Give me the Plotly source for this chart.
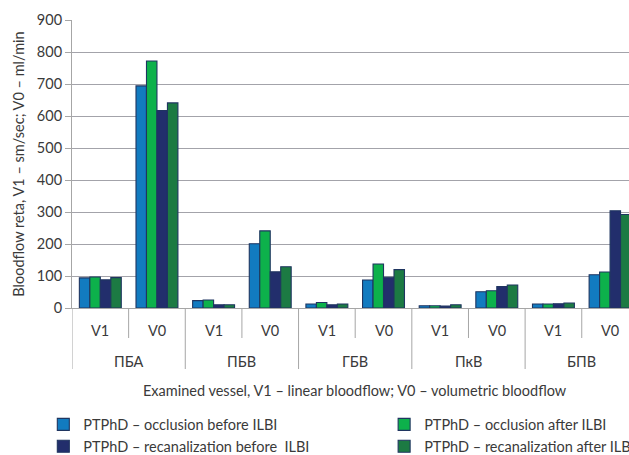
import plotly.graph_objects as go

vessels = ["ПБА", "ПБВ", "ГБВ", "ПкВ", "БПВ"]
measures = ["V1", "V0"]
series_names = [
    "PTPhD – occlusion before ILBI",
    "PTPhD – occlusion after ILBI",
    "PTPhD – recanalization before  ILBI",
    "PTPhD – recanalization after ILBI",
]
occl_before = [94, 694, 23, 201, 12.5, 87.5, 7, 51, 12.5, 104]
occl_after = [97, 772, 25, 241, 17, 137.5, 7, 54, 12.5, 112.5]
recan_before = [88, 617, 10, 113, 10, 96, 6, 67, 13.5, 304]
recan_after = [95, 641, 10, 129, 12.5, 120, 10, 72, 15.5, 292]

y_title = "Bloodflow reta, V1 – sm/sec; V0 – ml/min"
x_title = "Examined vessel, V1 – linear bloodflow; V0 – volumetric bloodflow"

colors = ["#127bc0", "#0db14b", "#222e6c", "#1c7a43"]
outline = "#1f3560"
FONT = "Lato"
FS = 14.5
TXT = "#3a3a3a"

W, H = 629, 455
ML, MT, MB = 71.7, 20, 147
plot_w = W - ML
plot_h = H - MT - MB
cat_w = 56.67
x_max = -0.5 + plot_w / cat_w

n = len(vessels) * len(measures)
xs = list(range(n))

legend_of = ["legend", "legend2", "legend", "legend2"]

fig = go.Figure()
for name, vals, col, lg in zip(series_names, [occl_before, occl_after, recan_before, recan_after], colors, legend_of):
    fig.add_trace(go.Bar(
        x=xs, y=vals, name=name, legend=lg,
        marker=dict(color=col, line=dict(color=outline, width=1.1)),
    ))

shapes = []
annotations = []
for g in range(len(vessels)):
    xb = 2 * g + 0.5
    shapes.append(dict(type="line", xref="x", yref="paper", x0=xb, x1=xb,
                       y0=0, y1=-30 / plot_h, line=dict(color="#a6a6a6", width=1)))
    xd = 2 * g - 0.5
    shapes.append(dict(type="line", xref="x", yref="paper", x0=xd, x1=xd,
                       y0=0, y1=-61 / plot_h, line=dict(color="#a6a6a6", width=1)))
    annotations.append(dict(x=2 * g + 0.5, y=0, xref="x", yref="paper", text=vessels[g],
                            showarrow=False, yanchor="middle", yshift=-53,
                            font=dict(family=FONT, size=FS, color=TXT)))
    for k, m in enumerate(measures):
        annotations.append(dict(x=2 * g + k, y=0, xref="x", yref="paper", text=m,
                                showarrow=False, yanchor="middle", yshift=-22,
                                font=dict(family=FONT, size=FS, color=TXT)))

annotations.append(dict(x=(n - 1) / 2, y=0, xref="x", yref="paper", text=x_title,
                        showarrow=False, yanchor="middle", yshift=-82,
                        font=dict(family=FONT, size=FS, color=TXT)))

leg_common = dict(orientation="v", yanchor="top", xanchor="left", itemwidth=30,
                  tracegroupgap=0, bgcolor="rgba(0,0,0,0)",
                  font=dict(family=FONT, size=FS, color=TXT))
leg_y = -(408.5 - (H - MB)) / plot_h

fig.update_layout(
    width=W, height=H, autosize=False,
    margin=dict(l=ML, r=0, t=MT, b=MB, pad=0, autoexpand=False),
    paper_bgcolor="white", plot_bgcolor="white",
    barmode="group", bargap=0.26, bargroupgap=0,
    font=dict(family=FONT, size=FS, color=TXT),
    xaxis=dict(range=[-0.5, x_max], showticklabels=False, ticks="",
               showgrid=False, zeroline=False, showline=True,
               linecolor="#a6a6a6", linewidth=1, fixedrange=True),
    yaxis=dict(range=[0, 900], dtick=100, tick0=0, showgrid=True,
               gridcolor="#a3a3aa", gridwidth=1.2, zeroline=False,
               showline=True, linecolor="#a6a6a6", linewidth=1,
               ticks="outside", ticklen=6, tickcolor="#a6a6a6",
               tickfont=dict(family=FONT, size=FS, color=TXT),
               title=dict(text=y_title, font=dict(family=FONT, size=FS, color=TXT), standoff=8)),
    legend=dict(x=(43 - ML) / plot_w, y=leg_y, **leg_common),
    legend2=dict(x=(384 - ML) / plot_w, y=leg_y, **leg_common),
    shapes=shapes, annotations=annotations,
)

fig.write_html("out.html", config={"displayModeBar": False},
               post_script="document.body.style.margin='0';document.body.style.overflow='hidden';")
